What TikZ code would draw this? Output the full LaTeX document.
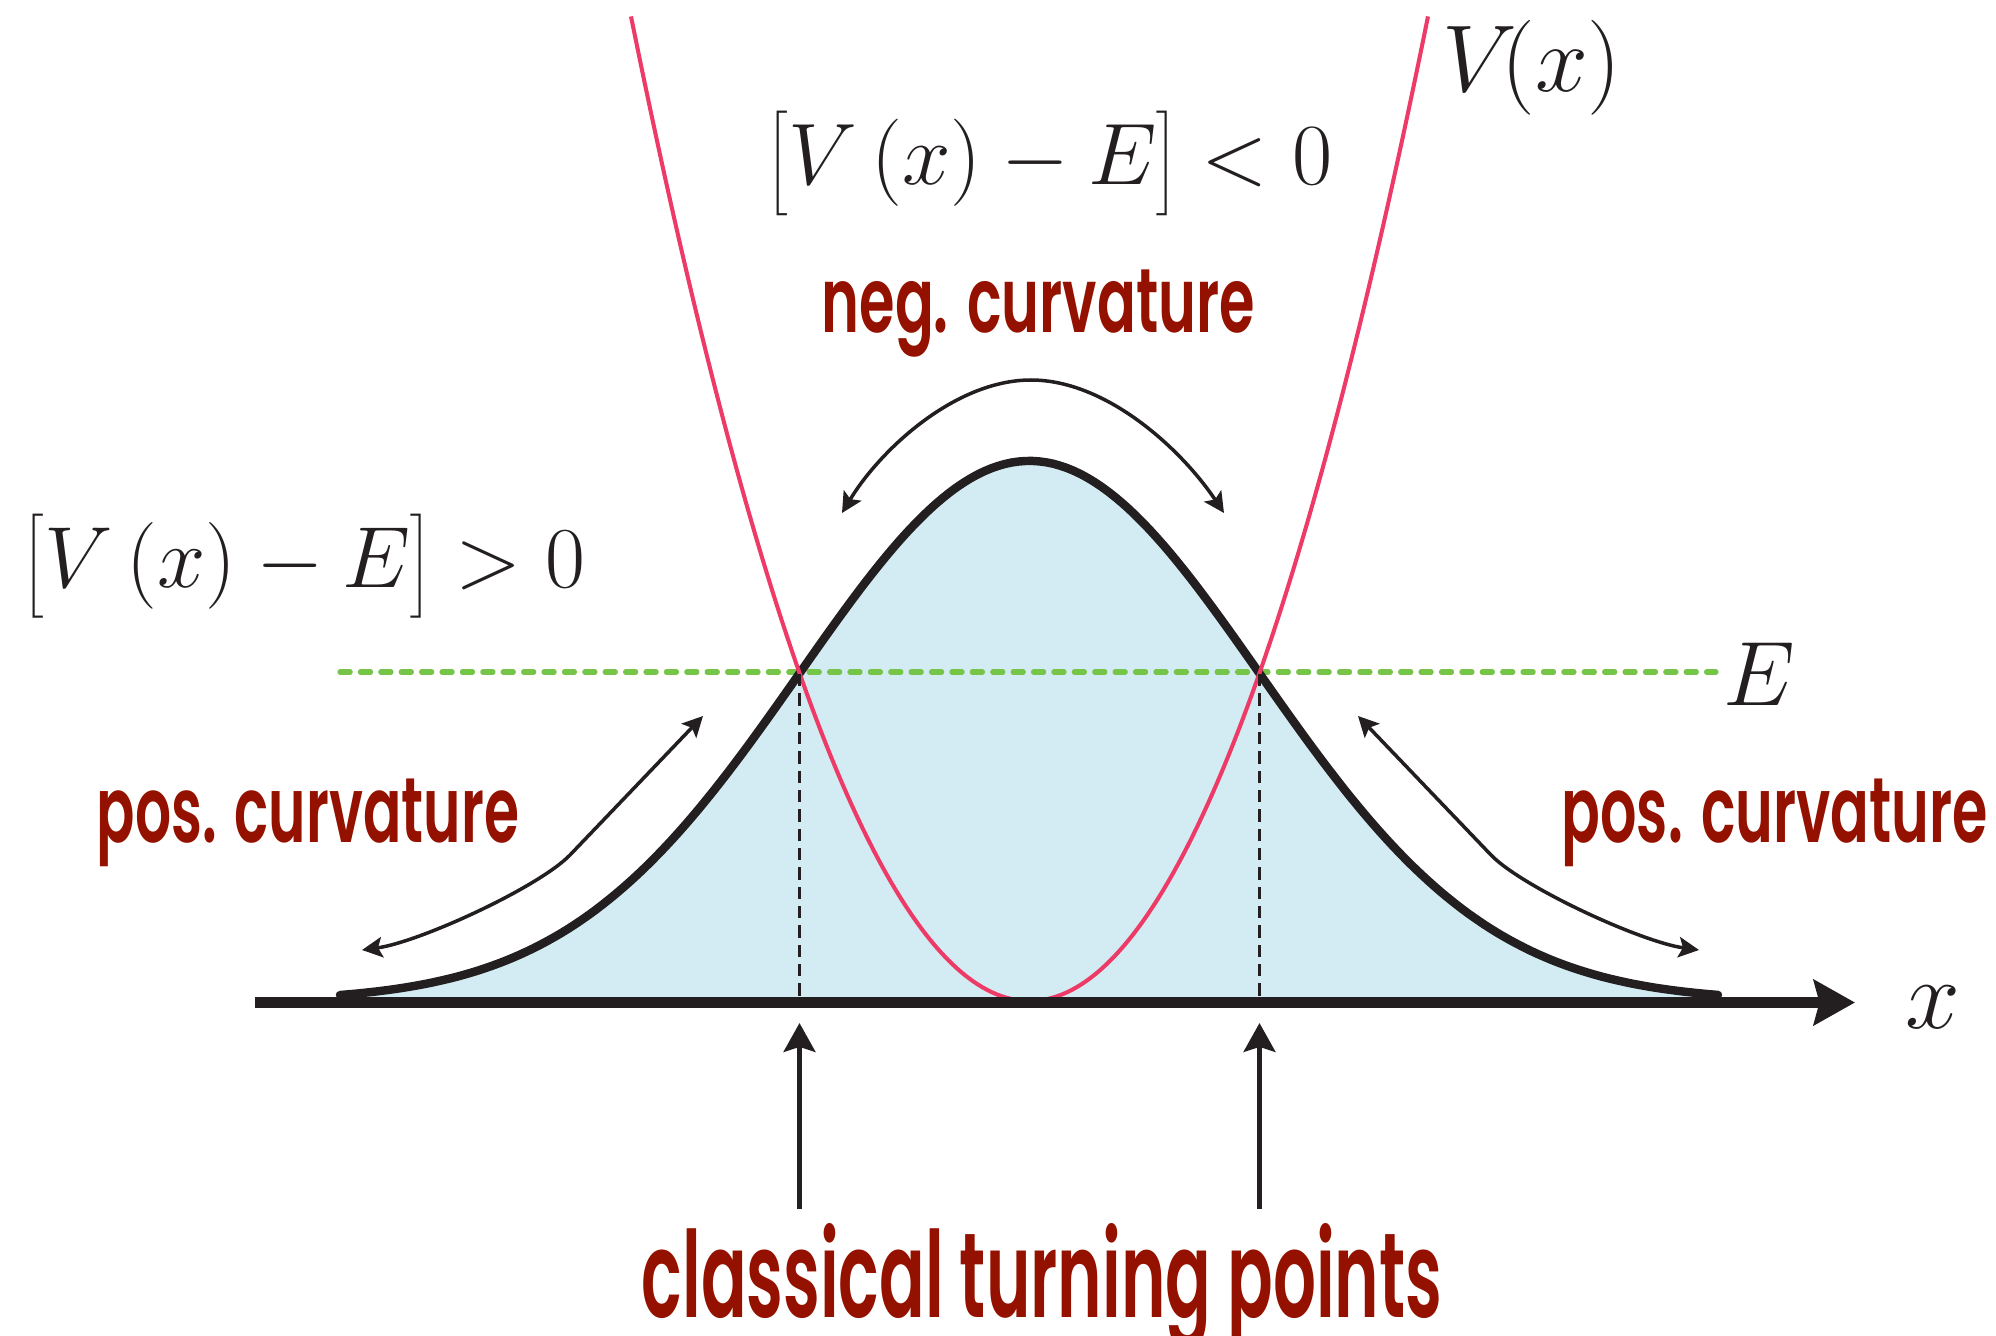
\documentclass[tikz,border=0pt]{standalone}
\usepackage{fix-cm}
\usepackage{fontspec}
\usepackage{graphicx}
\usetikzlibrary{arrows.meta}
\newfontfamily\condfont{Poppins SemiBold}
\definecolor{ink}{RGB}{35,31,32}
\definecolor{curvred}{RGB}{148,17,0}
\definecolor{vpink}{RGB}{238,58,102}
\definecolor{egreen}{RGB}{118,196,72}
\definecolor{fillblue}{RGB}{211,236,243}
\newcommand{\bigstrutrule}{\vrule height 21pt depth 8.5pt width 0pt}
\tikzset{
  gaussline/.style={draw=ink, line width=2.4pt, line cap=round, line join=round},
  gaussfill/.style={fill=fillblue},
  potline/.style={draw=vpink, line width=1.15pt},
  eline/.style={draw=egreen, line width=1.45pt, line cap=round, dash pattern=on 2.9pt off 2.9pt},
  tpline/.style={draw=ink, line width=0.7pt, dash pattern=on 3.5pt off 2pt},
  axisline/.style={draw=ink, line width=3.1pt, -{Stealth[length=11.7pt,width=12.8pt,inset=1.6pt]}},
  tparrow/.style={draw=ink, line width=1.4pt, -{Stealth[length=8.2pt,width=9pt,inset=1.4pt]}},
  curvarrow/.style={draw=ink, line width=1pt, line join=round,
    {Stealth[length=5.8pt,width=5.8pt,inset=1.2pt]}-{Stealth[length=5.8pt,width=5.8pt,inset=1.2pt]}},
  redlabel/.style={inner sep=0pt, text=curvred, anchor=base west},
  mathlabel/.style={inner sep=0pt, text=ink},
}
\begin{document}
\begin{tikzpicture}[x=0.01cm,y=-0.01cm]
\useasboundingbox (0,0) rectangle (1996,1336);

% Gaussian fill
\fill[gaussfill] plot[domain=340:1718, samples=200] (\x, {1001 - 540*exp(-((\x-1029.5)/230)^2/2)})
  -- (1718,1002) -- (340,1002) -- cycle;

% coordinates
\coordinate (Eleft) at (340,672);
\coordinate (Eright) at (1716,672);
\coordinate (tplTop) at (799.5,674);
\coordinate (tplBot) at (799.5,998);
\coordinate (tprTop) at (1259.5,674);
\coordinate (tprBot) at (1259.5,998);
\coordinate (axL) at (255,1002.5);
\coordinate (axR) at (1855,1002.5);
\coordinate (tplArrB) at (799.5,1209);
\coordinate (tplArrT) at (799.5,1023);
\coordinate (tprArrB) at (1259.5,1209);
\coordinate (tprArrT) at (1259.5,1023);
\coordinate (negA) at (842,513);
\coordinate (negTop) at (1031,380);
\coordinate (negB) at (1224,513);
\coordinate (posLA) at (703,716);
\coordinate (posLK) at (570,855);
\coordinate (posLB) at (362,950);
\coordinate (posRA) at (1358,716);
\coordinate (posRK) at (1491,855);
\coordinate (posRB) at (1699,950);

% energy line
\draw[eline] (Eleft) -- (Eright);

% Gaussian curve
\draw[gaussline] plot[domain=340:1718, samples=200] (\x, {1001 - 540*exp(-((\x-1029.5)/230)^2/2)});

% potential
\draw[potline] plot[domain=631:1428, samples=160] (\x, {1001 - 62.0*((\x-1029.5)/100)^2});

% turning point guides
\draw[tpline] (tplTop) -- (tplBot);
\draw[tpline] (tprTop) -- (tprBot);

% axis
\draw[axisline] (axL) -- (axR);

% turning point arrows
\draw[tparrow] (tplArrB) -- (tplArrT);
\draw[tparrow] (tprArrB) -- (tprArrT);

% curvature arrows
\draw[curvarrow] (negA) .. controls (880,450) and (955,380) .. (negTop)
  .. controls (1107,380) and (1182,450) .. (negB);
\draw[curvarrow] (posLA) -- (posLK) .. controls (539,887) and (420,942) .. (posLB);
\draw[curvarrow] (posRA) -- (posRK) .. controls (1522,887) and (1641,942) .. (posRB);

% labels
\node[redlabel] (neglab) at (821,332.6) {\resizebox{4.33cm}{0.626cm}{\condfont neg. curvature}};
\node[redlabel] (posLlab) at (96,842.5) {\resizebox{4.22cm}{0.635cm}{\condfont pos. curvature}};
\node[redlabel] (posRlab) at (1561,842.5) {\resizebox{4.26cm}{0.635cm}{\condfont pos. curvature}};
\node[redlabel] (ctp) at (641,1317) {\resizebox{8.0cm}{0.94cm}{\condfont classical turning points}};

\node[mathlabel] (neglt) at (1050,163) {\resizebox{5.64cm}{!}{\fontsize{25}{30}\selectfont$\left[\bigstrutrule V\left(x\right)-E\right]<0$}};
\node[mathlabel] (posgt) at (304.5,566) {\resizebox{5.61cm}{!}{\fontsize{25}{30}\selectfont$\left[\bigstrutrule V\left(x\right)-E\right]>0$}};
\node[mathlabel] (Vlab) at (1532,68) {\fontsize{27}{32}\selectfont$V\!(x)$};
\node[mathlabel] (Elab) at (1759,674) {\fontsize{26}{31}\selectfont$E$};
\node[mathlabel] (xlab) at (1933,1007.5) {\fontsize{28}{33}\selectfont$x$};
\end{tikzpicture}
\end{document}
